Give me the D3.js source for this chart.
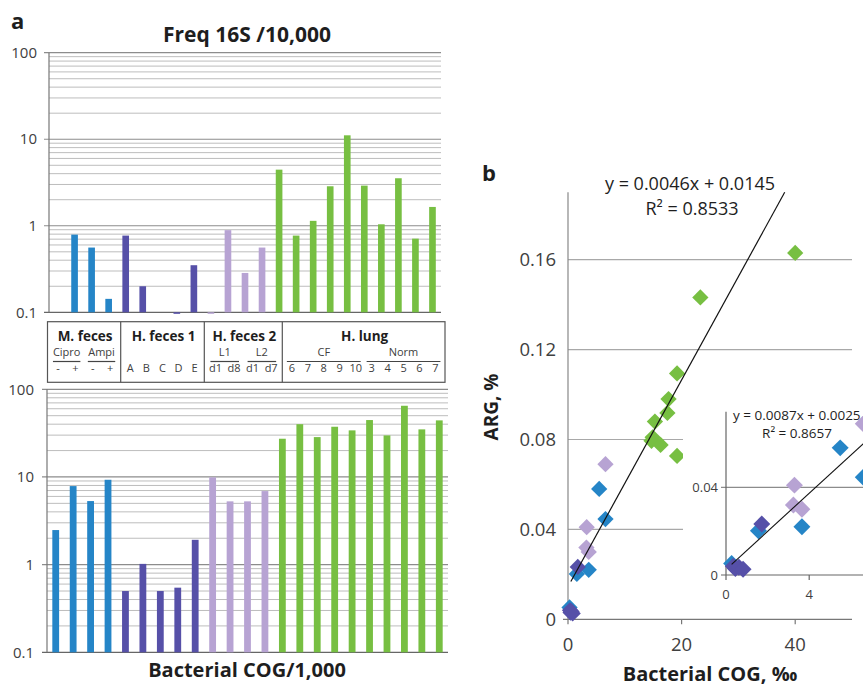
<!DOCTYPE html>
<html><head><meta charset="utf-8">
<script src="https://cdn.jsdelivr.net/npm/d3@7"></script>
<style>
html,body{margin:0;padding:0;background:#fff;}
svg{display:block;font-family:"Open Sans",sans-serif;}
</style></head>
<body><svg id="c" width="863" height="687"></svg>
<script>
// ---------------- DATA ----------------
const categories = ["-","+","-","+","A","B","C","D","E","d1","d8","d1","d7","6","7","8","9","10","3","4","5","6","7"];
const groupNames = ["M. feces","H. feces 1","H. feces 2","H. lung"];
const groupOf = [0,0,0,0,1,1,1,1,1,2,2,2,2,3,3,3,3,3,3,3,3,3,3];
const subGroups = [
  {name:"Cipro", group:0, from:0, to:1},
  {name:"Ampi",  group:0, from:2, to:3},
  {name:"L1",    group:2, from:0, to:1},
  {name:"L2",    group:2, from:2, to:3},
  {name:"CF",    group:3, from:0, to:4},
  {name:"Norm",  group:3, from:5, to:9}
];
// Freq 16S /10,000 (null = below axis, not drawn)
const freq16S = [null,0.79,0.56,0.143, 0.77,0.20,null,0.096,0.35, 0.097,0.89,0.285,0.56,
                 4.45,0.77,1.14,2.86,11.1,2.91,1.04,3.54,0.71,1.65];
// Bacterial COG /1,000
const cog = [2.48,7.87,5.31,9.29, 0.50,1.02,0.50,0.546,1.92, 9.9,5.27,5.27,6.9,
             27.3,40,28.5,37.4,34,44.6,29.8,64.9,34.9,44.2];
const logTicks = [0.1,1,10,100];

// Scatter: [Bacterial COG ‰, ARG %]
const mFecesPts  = [[0.27,0.0053],[1.56,0.0202],[3.65,0.022],[5.49,0.058],[6.6,0.0446]];
const hFeces1Pts = [[0.35,0.004],[0.45,0.003],[0.62,0.0035],[0.82,0.0026],[1.72,0.0233]];
const hFeces2Pts = [[3.24,0.0319],[3.29,0.041],[3.65,0.030],[6.6,0.069]];
const hLungPts   = [[40.0,0.163],[23.3,0.1432],[19.2,0.1094],[17.7,0.098],[17.5,0.0918],
                    [15.3,0.088],[14.9,0.081],[14.7,0.0794],[16.3,0.0776],[19.2,0.0727]];
const mainTicksY = [0,0.04,0.08,0.12,0.16];
const mainTicksX = [0,20,40];
const insetTicksY = [0,0.04];
const insetTicksX = [0,4];
const mainFit  = {slope:0.0046, intercept:0.0145, r2:"0.8533", x0:0.5};
const insetFit = {slope:0.0087, intercept:0.0025, r2:"0.8657", x0:0.27};

const colors = ["#2585c7","#5650a8","#b7a3d3","#77bf42"];

// ---------------- DRAW ----------------
const svg = d3.select("#c");
const txtDark = "#1e1e1e", txtTick = "#404040";

function logGrid(g, y, x0, x1) {
  const minors = [];
  for (let d = 0.1; d < 100; d *= 10) for (let k = 2; k <= 9; k++) minors.push(+(d*k).toPrecision(3));
  g.selectAll(".mn").data(minors).join("line")
    .attr("x1", x0).attr("x2", x1).attr("y1", d=>y(d)).attr("y2", d=>y(d))
    .attr("stroke", "#bdbdbd").attr("stroke-width", 1);
  g.selectAll(".mj").data(logTicks).join("line")
    .attr("x1", x0-5).attr("x2", x1).attr("y1", d=>y(d)).attr("y2", d=>y(d))
    .attr("stroke", d => d===0.1 ? "#666" : "#8c8c8c").attr("stroke-width", d=> d===0.1?1.3:1.2);
  g.append("line").attr("x1", x0).attr("x2", x0).attr("y1", y(100)).attr("y2", y(0.1))
    .attr("stroke", "#777").attr("stroke-width", 1.2);
}

function barChart(values, xr, yr, labelX, fontSize) {
  const x = d3.scaleBand().domain(d3.range(categories.length)).range(xr).paddingInner(0.61).paddingOuter(0.305);
  const y = d3.scaleLog().domain([0.1,100]).range(yr);
  const g = svg.append("g");
  logGrid(g, y, xr[0], xr[1]);
  g.selectAll(".lbl").data(logTicks).join("text")
    .attr("x", labelX).attr("y", d=>y(d)).attr("dy","0.35em")
    .attr("text-anchor","end").attr("font-size", fontSize).attr("fill", txtTick)
    .text(d => d3.format("~g")(d));
  g.selectAll(".bar").data(values.map((v,i)=>({v,i})).filter(d=>d.v!==null)).join("rect")
    .attr("x", d=>x(d.i)).attr("width", x.bandwidth())
    .attr("y", d=>Math.min(y(d.v), y(0.1)))
    .attr("height", d=>Math.max(1.5, Math.abs(y(0.1)-y(d.v))))
    .attr("fill", d=>colors[groupOf[d.i]]);
  return {x,y};
}

// Panel a
svg.append("text").attr("x",11).attr("y",29).attr("font-size",22).attr("font-weight",700).attr("fill",txtDark).text("a");
svg.append("text").attr("x",247).attr("y",42).attr("text-anchor","middle").attr("font-size",21).attr("font-weight",700).attr("fill",txtDark).text("Freq 16S /10,000");
barChart(freq16S, [49,441], [312.3,52.7], 37, 15);
barChart(cog, [47,448], [652.3,389.3], 34, 15);
svg.append("text").attr("x",247).attr("y",677).attr("text-anchor","middle").attr("font-size",20).attr("font-weight",700).attr("fill",txtDark).text("Bacterial COG/1,000");

// Label table between the two bar charts
const boxEdges = [47.5,120.7,204.3,282.3,445];
const boxTop = 321.7, boxBot = 382.3;
const tb = svg.append("g");
tb.append("rect").attr("x",boxEdges[0]).attr("y",boxTop).attr("width",boxEdges[4]-boxEdges[0]).attr("height",boxBot-boxTop)
  .attr("fill","#fff").attr("stroke","#555").attr("stroke-width",1.2);
tb.selectAll(".div").data(boxEdges.slice(1,4)).join("line")
  .attr("x1",d=>d).attr("x2",d=>d).attr("y1",boxTop).attr("y2",boxBot).attr("stroke","#555").attr("stroke-width",1.2);
const colScales = groupNames.map((gname,gi) => {
  const n = groupOf.filter(g=>g===gi).length;
  return d3.scalePoint().domain(d3.range(n)).range([boxEdges[gi],boxEdges[gi+1]]).padding(0.6);
});
tb.selectAll(".gn").data(groupNames).join("text")
  .attr("x",(d,i)=>(boxEdges[i]+boxEdges[i+1])/2+1).attr("y",341)
  .attr("text-anchor","middle").attr("font-size",13.5).attr("font-weight",700).attr("fill",txtDark).text(d=>d);
const catItems = categories.map((c,i)=>{
  const gi = groupOf[i]; const first = groupOf.indexOf(gi);
  return {c, gi, k:i-first};
});
tb.selectAll(".cat").data(catItems).join("text")
  .attr("x",d=>colScales[d.gi](d.k)).attr("y",371.5)
  .attr("text-anchor","middle").attr("font-size",11).attr("fill",txtTick).text(d=>d.c);
tb.selectAll(".sg").data(subGroups).join("text")
  .attr("x",d=>(colScales[d.group](d.from)+colScales[d.group](d.to))/2).attr("y",355.5)
  .attr("text-anchor","middle").attr("font-size",11).attr("fill",txtTick).text(d=>d.name);
tb.selectAll(".sgl").data(subGroups).join("line")
  .attr("x1",d=>colScales[d.group](d.from)-5).attr("x2",d=>colScales[d.group](d.to)+5)
  .attr("y1",361.5).attr("y2",361.5).attr("stroke","#444").attr("stroke-width",1.2);

// Panel b
const bx = d3.scaleLinear().domain([0,50]).range([568,852]);
const by = d3.scaleLinear().domain([0,0.19]).range([619.3,192.3]);
const gb = svg.append("g");
svg.append("text").attr("x",482).attr("y",181).attr("font-size",22).attr("font-weight",700).attr("fill",txtDark).text("b");
gb.selectAll(".gl").data(mainTicksY.filter(d=>d>0)).join("line")
  .attr("x1",bx(0)).attr("x2",bx(50)).attr("y1",d=>by(d)).attr("y2",d=>by(d))
  .attr("stroke","#a8a8a8").attr("stroke-width",1.2);
gb.append("line").attr("x1",bx(0)).attr("x2",bx(0)).attr("y1",by(0.19)).attr("y2",by(0)).attr("stroke","#888").attr("stroke-width",1.2);
gb.append("line").attr("x1",bx(0)-5).attr("x2",bx(50)).attr("y1",by(0)).attr("y2",by(0)).attr("stroke","#777").attr("stroke-width",1.3);
gb.selectAll(".xt").data(mainTicksX).join("line")
  .attr("x1",d=>bx(d)).attr("x2",d=>bx(d)).attr("y1",by(0)).attr("y2",by(0)+5).attr("stroke","#777").attr("stroke-width",1.2);
gb.selectAll(".yl").data(mainTicksY).join("text")
  .attr("x",bx(0)-12).attr("y",d=>by(d)).attr("dy","0.36em").attr("text-anchor","end")
  .attr("font-size",18.5).attr("fill",txtTick).text(d=>d3.format("~g")(d));
gb.selectAll(".xl").data(mainTicksX).join("text")
  .attr("x",d=>bx(d)).attr("y",651).attr("text-anchor","middle")
  .attr("font-size",18.5).attr("fill",txtTick).text(d=>d);
svg.append("text").attr("transform","translate(498,407) rotate(-90)").attr("text-anchor","middle")
  .attr("font-size",19).attr("font-weight",700).attr("fill",txtDark).text("ARG, %");
svg.append("text").attr("x",710).attr("y",681).attr("text-anchor","middle").attr("font-size",20).attr("font-weight",700).attr("fill",txtDark).text("Bacterial COG, ‰");

const series = [mFecesPts,hFeces1Pts,hFeces2Pts,hLungPts];
function diamonds(g, xs, ys, side) {
  series.forEach((pts,si)=>{
    g.selectAll(".s"+si).data(pts).join("rect")
      .attr("x",-side/2).attr("y",-side/2).attr("width",side).attr("height",side)
      .attr("transform",d=>`translate(${xs(d[0])},${ys(d[1])}) rotate(45)`)
      .attr("fill",colors[si]);
  });
}
diamonds(gb, bx, by, 11.5);
const xEnd = (0.19-mainFit.intercept)/mainFit.slope;
gb.append("line").attr("x1",bx(mainFit.x0)).attr("y1",by(mainFit.slope*mainFit.x0+mainFit.intercept))
  .attr("x2",bx(xEnd)).attr("y2",by(0.19)).attr("stroke","#111").attr("stroke-width",1.2);
gb.append("text").attr("x",690).attr("y",190).attr("text-anchor","middle").attr("font-size",18).attr("fill",txtDark)
  .text(`y = ${mainFit.slope}x + ${mainFit.intercept}`);
gb.append("text").attr("x",692).attr("y",215).attr("text-anchor","middle").attr("font-size",18).attr("fill",txtDark)
  .text(`R² = ${mainFit.r2}`);

// Inset
const ix = d3.scaleLinear().domain([0,7]).range([726,871.6]);
const iy = d3.scaleLinear().domain([0,0.0745]).range([575,411.7]);
const gi = svg.append("g");
gi.append("rect").attr("x",683).attr("y",400).attr("width",200).attr("height",212).attr("fill","#fff");
gi.selectAll(".igl").data(insetTicksY.filter(d=>d>0)).join("line")
  .attr("x1",ix(0)-5).attr("x2",863).attr("y1",d=>iy(d)).attr("y2",d=>iy(d)).attr("stroke","#8c8c8c").attr("stroke-width",1.2);
gi.append("line").attr("x1",ix(0)).attr("x2",ix(0)).attr("y1",iy(0.0745)).attr("y2",iy(0)).attr("stroke","#666").attr("stroke-width",1.2);
gi.append("line").attr("x1",ix(0)-5).attr("x2",863).attr("y1",iy(0)).attr("y2",iy(0)).attr("stroke","#666").attr("stroke-width",1.2);
gi.selectAll(".ixt").data(insetTicksX).join("line")
  .attr("x1",d=>ix(d)).attr("x2",d=>ix(d)).attr("y1",iy(0)).attr("y2",iy(0)+5).attr("stroke","#666").attr("stroke-width",1.2);
gi.selectAll(".iyl").data(insetTicksY).join("text")
  .attr("x",ix(0)-8).attr("y",d=>iy(d)).attr("dy","0.36em").attr("text-anchor","end")
  .attr("font-size",13).attr("fill",txtTick).text(d=>d3.format("~g")(d));
gi.selectAll(".ixl").data(insetTicksX).join("text")
  .attr("x",d=>ix(d)).attr("y",599).attr("text-anchor","middle")
  .attr("font-size",13).attr("fill",txtTick).text(d=>d);
diamonds(gi, ix, iy, 12);
gi.append("line").attr("x1",ix(insetFit.x0)).attr("y1",iy(insetFit.slope*insetFit.x0+insetFit.intercept))
  .attr("x2",ix(7)).attr("y2",iy(insetFit.slope*7+insetFit.intercept)).attr("stroke","#111").attr("stroke-width",1.1);
gi.append("text").attr("x",733).attr("y",420).attr("font-size",13.5).attr("fill",txtDark)
  .text(`y = ${insetFit.slope}x + ${insetFit.intercept}`);
gi.append("text").attr("x",797).attr("y",438).attr("text-anchor","middle").attr("font-size",13.5).attr("fill",txtDark)
  .text(`R² = ${insetFit.r2}`);
</script></body></html>
